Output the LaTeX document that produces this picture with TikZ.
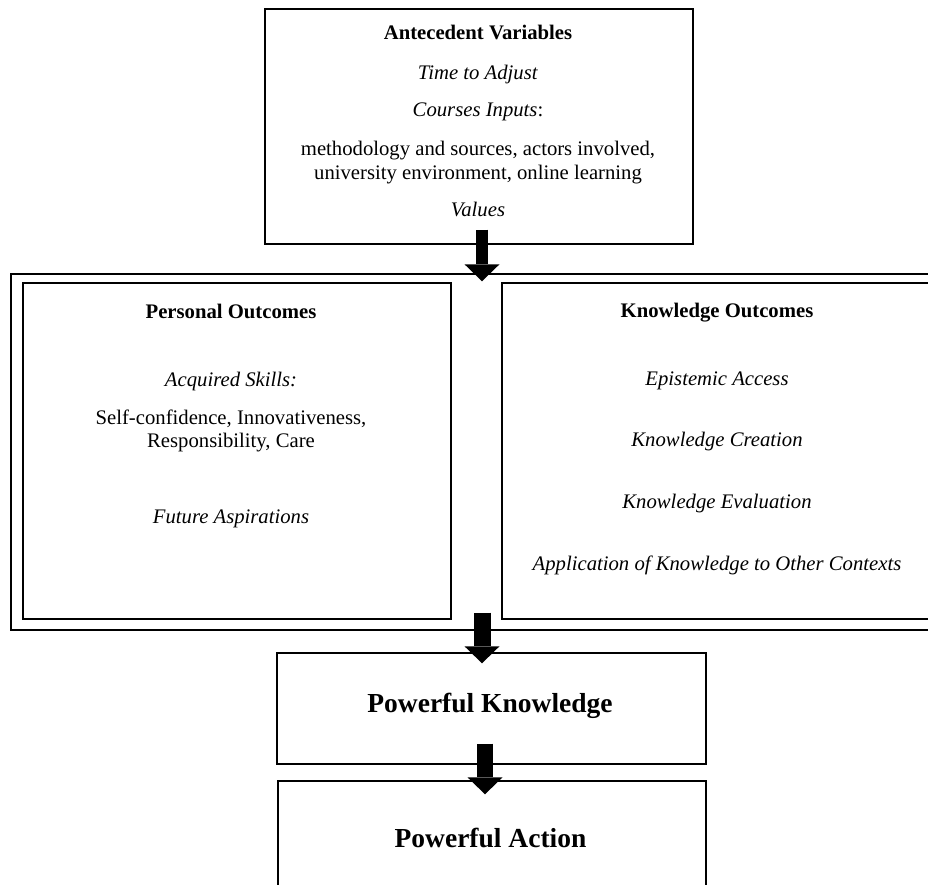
\documentclass[tikz,border=0pt]{standalone}
\usepackage{fontspec}
\setmainfont{Liberation Serif}
\usetikzlibrary{arrows.meta, positioning, calc}

\begin{document}
\begin{tikzpicture}[
  x=1pt, y=-1pt,
  every node/.style={font=\fontsize{20.7}{24}\selectfont},
  box/.style={draw, line width=1.4pt, inner sep=0pt},
  txt/.style={anchor=base, inner sep=0pt},
  big/.style={anchor=base, inner sep=0pt, font=\fontsize{27.5}{32}\selectfont\bfseries},
  blockarrow/.style={line width=#1, -{Triangle[width=35pt, length=17pt, line width=0pt]}}
]
  \useasboundingbox (0,0) rectangle (928,885);

  % boxes
  \node[box, minimum width=428pt, minimum height=235pt] (av) at (479,126.5) {};
  \node[box, minimum width=933pt, minimum height=356pt] (out) at (477.5,452) {};
  \node[box, minimum width=428pt, minimum height=336pt] (po) at (237,451) {};
  \node[box, minimum width=430pt, minimum height=336pt] (ko) at (717,451) {};
  \node[box, minimum width=429pt, minimum height=111pt] (pk) at (491.5,708.5) {};
  \node[box, minimum width=428pt, minimum height=124pt] (pa) at (492,843) {};

  % antecedent variables
  \node[txt] (avh) at (478,40) {\textbf{Antecedent Variables}};
  \node[txt] (avt) at (478,80) {\textit{Time to Adjust}};
  \node[txt] (avc) at (478,117) {\textit{Courses Inputs}:};
  \node[txt] (avm) at (478,156) {methodology and sources, actors involved,};
  \node[txt] (avu) at (478,180) {university environment, online learning};
  \node[txt] (avv) at (478,217) {\textit{Values}};

  % personal outcomes
  \node[txt] (poh) at (231,318) {\textbf{Personal Outcomes}};
  \node[txt] (poa) at (231,386) {\textit{Acquired Skills:}};
  \node[txt] (pos) at (231,424) {Self-confidence, Innovativeness,};
  \node[txt] (por) at (231,447) {Responsibility, Care};
  \node[txt] (pof) at (231,523) {\textit{Future Aspirations}};

  % knowledge outcomes
  \node[txt] (koh) at (717,317) {\textbf{Knowledge Outcomes}};
  \node[txt] (koe) at (717,385) {\textit{Epistemic Access}};
  \node[txt] (koc) at (717,446) {\textit{Knowledge Creation}};
  \node[txt] (kov) at (717,508) {\textit{Knowledge Evaluation}};
  \node[txt] (koa) at (717,570) {\textit{Application of Knowledge to Other Contexts}};

  \node[big] (pkt) at (490,712) {Powerful Knowledge};
  \node[big] (pat) at (490.5,847) {Powerful Action};

  % arrows
  \coordinate (a1s) at ($(av.south)+(3,-15)$);
  \coordinate (a1e) at ($(a1s |- po.north)+(0,-1)$);
  \coordinate (a2s) at ($(a1s |- po.south)+(0,-7)$);
  \coordinate (a2e) at ($(a2s |- pk.north)+(0,11)$);
  \coordinate (a3s) at ($(pk.south)+(-6.5,-21)$);
  \coordinate (a3e) at ($(a3s |- pa.north)+(0,14)$);

  \draw[blockarrow=12pt] (a1s) -- (a1e);
  \draw[blockarrow=17pt] (a2s) -- (a2e);
  \draw[blockarrow=16pt] (a3s) -- (a3e);
\end{tikzpicture}
\end{document}
